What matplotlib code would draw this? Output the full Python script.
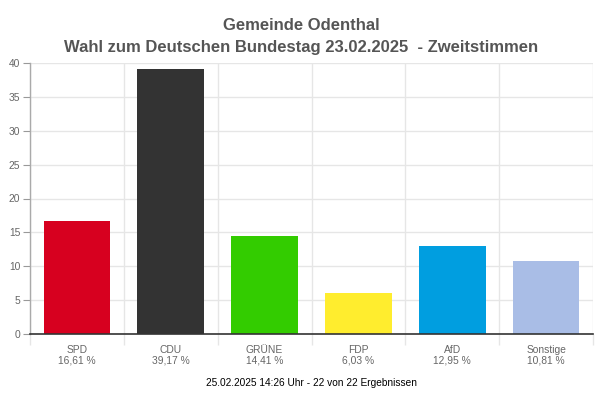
import matplotlib
matplotlib.use("Agg")
import matplotlib.pyplot as plt
import numpy as np

parties = ["SPD", "CDU", "GRÜNE", "FDP", "AfD", "Sonstige"]
values = [16.61, 39.17, 14.41, 6.03, 12.95, 10.81]
pct_labels = ["16,61 %", "39,17 %", "14,41 %", "6,03 %", "12,95 %", "10,81 %"]
colors = ["#d7001f", "#333333", "#33cc00", "#ffed2e", "#009ee0", "#a9bde6"]
y_ticks = [0, 5, 10, 15, 20, 25, 30, 35, 40]
title1 = "Gemeinde Odenthal"
title2 = "Wahl zum Deutschen Bundestag 23.02.2025  - Zweitstimmen"
footer = "25.02.2025 14:26 Uhr - 22 von 22 Ergebnissen"

plt.rcParams['font.family'] = ['Liberation Sans', 'DejaVu Sans']

fig = plt.figure(figsize=(5.96, 3.98), dpi=100)
ax = fig.add_axes([30/596, 1-334/398, (593-30)/596, (334-63)/398])

x = np.arange(len(parties))
ax.bar(x, values, width=0.71, color=colors, zorder=3)

ax.set_xlim(-0.5, len(parties) - 0.5)
ax.set_ylim(0, 40)
ax.set_yticks(y_ticks)
ax.set_xticks(x)
ax.set_xticklabels([f"{p}\n{l}" for p, l in zip(parties, pct_labels)],
                   fontsize=7.4, color="#666666", linespacing=1.1)
ax.set_xticks(np.arange(len(parties) + 1) - 0.5, minor=True)
ax.tick_params(axis='x', which='major', length=0, pad=8)
ax.tick_params(axis='x', which='minor', length=8, color="#e6e6e6", width=1)
ax.tick_params(axis='y', length=5, color="#999999", labelsize=7.4,
               labelcolor="#666666", pad=2)

ax.grid(axis='y', which='major', color="#e6e6e6", linewidth=1, zorder=0)
ax.grid(axis='x', which='minor', color="#e6e6e6", linewidth=1, zorder=0)
ax.set_axisbelow(True)

for s in ["top", "right"]:
    ax.spines[s].set_visible(False)
ax.spines["left"].set_color("#aaaaaa")
ax.spines["left"].set_linewidth(1)
ax.spines["bottom"].set_color("#333333")
ax.spines["bottom"].set_linewidth(1.2)
ax.spines["bottom"].set_zorder(4)

fig.text(301/596, 1-30/398, title1, ha="center", va="baseline",
         fontsize=12, fontweight="bold", color="#555555")
fig.text(301/596, 1-52/398, title2, ha="center", va="baseline",
         fontsize=12, fontweight="bold", color="#555555")
fig.text(311.5/596, 1-383/398, footer, ha="center", va="center",
         fontsize=7.3, color="#000000")

fig.savefig("out.png", dpi=100)
